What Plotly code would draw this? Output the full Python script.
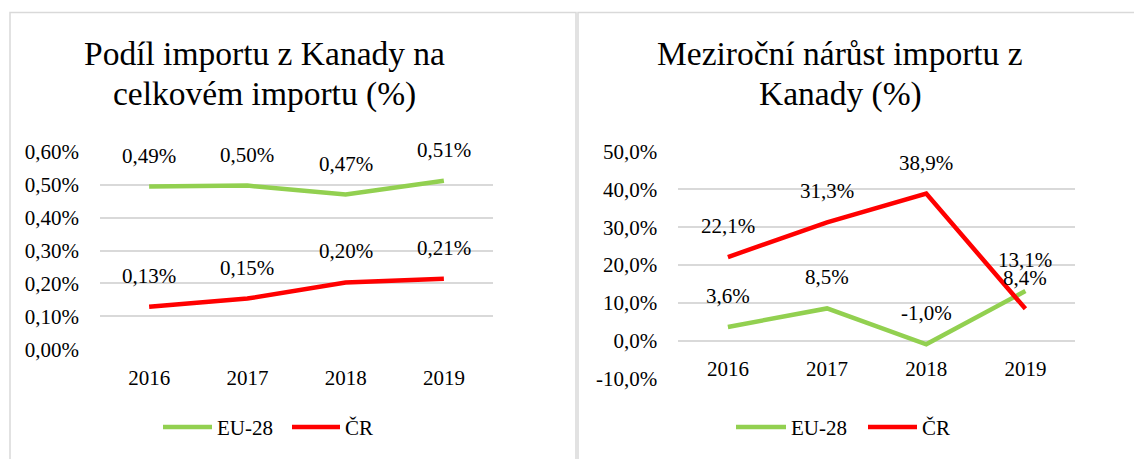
import plotly.graph_objects as go

# ---------------- data ----------------
years = ["2016", "2017", "2018", "2019"]
share_eu = [0.494, 0.497, 0.470, 0.512]   # % share of imports from Canada, EU-28
share_cr = [0.129, 0.154, 0.203, 0.214]   # % share, Czech Republic
growth_eu = [3.6, 8.5, -1.0, 13.1]        # % year-on-year growth, EU-28
growth_cr = [22.1, 31.3, 38.9, 8.4]       # % year-on-year growth, Czech Republic
series_names = ["EU-28", "ČR"]
series_colors = ["#92D050", "#FF0000"]
title_left = ["Podíl importu z Kanady na", "celkovém importu (%)"]
title_right = ["Meziroční nárůst importu z", "Kanady (%)"]

W, H = 1134, 459
FONT = "Liberation Serif"
GRID = "#D9D9D9"


def px(x):
    return x / W


def py(y):
    return 1 - y / H


def fmt(v, d):
    return f"{v:.{d}f}".replace(".", ",") + "%"


fig = go.Figure()

# left panel traces
for name, vals, col in zip(series_names, [share_eu, share_cr], series_colors):
    fig.add_trace(go.Scatter(x=years, y=vals, mode="lines", name=name,
                             line=dict(color=col, width=4.5),
                             xaxis="x", yaxis="y", showlegend=False,
                             cliponaxis=False))
# right panel traces
for name, vals, col in zip(series_names, [growth_eu, growth_cr], series_colors):
    fig.add_trace(go.Scatter(x=years, y=vals, mode="lines", name=name,
                             line=dict(color=col, width=4.5),
                             xaxis="x2", yaxis="y2", showlegend=False,
                             cliponaxis=False))

# domains
ly0, ly1 = py(349.3), py(151.7)
ry0, ry1 = py(378.3), py(151.7)
rmin, rmax = -10, 50
zero_pos = ry0 + (0 - rmin) / (rmax - rmin) * (ry1 - ry0)

tickfont = dict(family=FONT, size=21, color="#000000")

fig.update_layout(
    width=W, height=H,
    margin=dict(l=0, r=0, t=0, b=0, autoexpand=False),
    paper_bgcolor="white", plot_bgcolor="white",
    separators=", ",
    xaxis=dict(domain=[px(100), px(493)], anchor="y", type="category",
               range=[-0.5, 3.5], showgrid=False, showline=False, ticks="",
               tickfont=tickfont, ticklabelstandoff=14, zeroline=False),
    yaxis=dict(domain=[ly0, ly1], anchor="x", range=[0, 0.6],
               tickvals=[0, 0.1, 0.2, 0.3, 0.4, 0.5, 0.6],
               ticktext=[fmt(v, 2) for v in [0, 0.1, 0.2, 0.3, 0.4, 0.5, 0.6]],
               showgrid=True, gridcolor=GRID, gridwidth=1.5, zeroline=False,
               showline=False, ticks="", tickfont=tickfont,
               ticklabelstandoff=20),
    xaxis2=dict(domain=[px(678.3), px(1075)], anchor="free", position=zero_pos,
                type="category", range=[-0.5, 3.5], showgrid=False,
                showline=False, ticks="", tickfont=tickfont,
                ticklabelstandoff=13, zeroline=False),
    yaxis2=dict(domain=[ry0, ry1], anchor="x2", range=[rmin, rmax],
                tickvals=list(range(-10, 51, 10)),
                ticktext=[fmt(v, 1) for v in range(-10, 51, 10)],
                showgrid=True, gridcolor=GRID, gridwidth=1.5, zeroline=False,
                showline=False, ticks="", tickfont=tickfont,
                ticklabelstandoff=20),
    showlegend=False,
)

annotations = []
# data labels (x given as category index on the category axis)
for vals, d, xr, yr in [(share_eu, 2, "x", "y"), (share_cr, 2, "x", "y"),
                        (growth_eu, 1, "x2", "y2"), (growth_cr, 1, "x2", "y2")]:
    for i, v in enumerate(vals):
        annotations.append(dict(x=i, y=v, xref=xr, yref=yr, text=fmt(v, d),
                                showarrow=False, yshift=31,
                                font=dict(family=FONT, size=21, color="#000000")))

# titles
for lines, cx in [(title_left, 264), (title_right, 840)]:
    for line, cy in zip(lines, [53, 94]):
        annotations.append(dict(x=px(cx), y=py(cy), xref="paper", yref="paper",
                                text=line, showarrow=False, xanchor="center",
                                yanchor="middle",
                                font=dict(family=FONT, size=33.5, color="#000000")))

# legends (manual, to match line-sample length)
shapes = []
legend_specs = [
    [(163, 212, 215), (292, 340, 343)],
    [(736, 786, 789), (868, 917, 920)],
]
for spec in legend_specs:
    for (x0, x1, tx), name, col in zip(spec, series_names, series_colors):
        shapes.append(dict(type="line", xref="paper", yref="paper",
                           x0=px(x0), x1=px(x1), y0=py(427), y1=py(427),
                           line=dict(color=col, width=4.5)))
        annotations.append(dict(x=px(tx), y=py(427.5), xref="paper", yref="paper",
                                text=name, showarrow=False, xanchor="left",
                                yanchor="middle",
                                font=dict(family=FONT, size=21, color="#000000")))

# panel borders
shapes.append(dict(type="rect", xref="paper", yref="paper",
                   x0=px(10), x1=px(576), y0=py(475), y1=py(12.5),
                   line=dict(color=GRID, width=1.5), layer="below"))
shapes.append(dict(type="rect", xref="paper", yref="paper",
                   x0=px(578), x1=px(1150), y0=py(475), y1=py(12.5),
                   line=dict(color=GRID, width=1.5), layer="below"))

fig.update_layout(annotations=annotations, shapes=shapes)

fig.write_html("out.html", config={"displayModeBar": False},
               post_script="document.body.style.margin='0px';")
